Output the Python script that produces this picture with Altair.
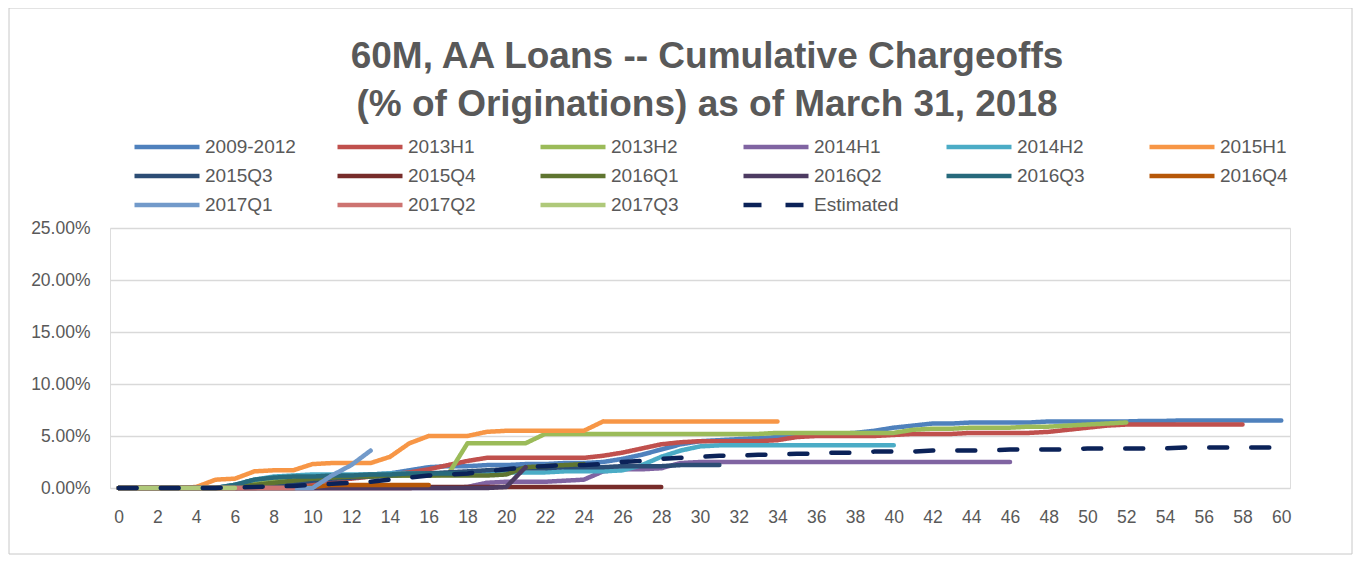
import altair as alt
import pandas as pd

# ---- data (percent of originations, by month on book starting at 0) ----
title_lines = ["60M, AA Loans -- Cumulative Chargeoffs", "(% of Originations) as of March 31, 2018"]

series_names = ["2009-2012", "2013H1", "2013H2", "2014H1", "2014H2", "2015H1",
                "2015Q3", "2015Q4", "2016Q1", "2016Q2", "2016Q3", "2016Q4",
                "2017Q1", "2017Q2", "2017Q3", "Estimated"]

series_colors = ["#4F81BD", "#C0504D", "#9BBB59", "#8064A2", "#4BACC6", "#F79646",
                 "#2C4D75", "#772C2A", "#5F7530", "#4D3B62", "#276A7C", "#B65708",
                 "#729ACA", "#CD7371", "#AFC97A", "#0B2258"]

v_2009_2012 = [0, 0, 0, 0, 0, 0,
               0.3, 0.6, 0.8, 0.9, 1.0,
               1.1, 1.2, 1.3, 1.4, 1.7,
               2.0, 2.1, 2.1, 2.2, 2.2,
               2.3, 2.3, 2.4, 2.4, 2.5,
               2.8, 3.2, 3.7, 4.2, 4.5,
               4.6, 4.7, 4.8, 4.9, 5.0,
               5.1, 5.2, 5.3, 5.5, 5.8,
               6.0, 6.2, 6.2, 6.3, 6.3,
               6.3, 6.3, 6.4, 6.4, 6.4,
               6.4, 6.4, 6.45, 6.45, 6.5,
               6.5, 6.5, 6.5, 6.5, 6.5]
v_2013H1 = [0, 0, 0, 0, 0, 0,
            0, 0, 0.1, 0.3, 0.5,
            0.7, 0.9, 1.1, 1.3, 1.5,
            1.8, 2.2, 2.6, 2.9, 2.9,
            2.9, 2.9, 2.9, 2.9, 3.1,
            3.4, 3.8, 4.2, 4.4, 4.5,
            4.5, 4.5, 4.5, 4.6, 4.9,
            5.0, 5.0, 5.0, 5.0, 5.1,
            5.2, 5.2, 5.2, 5.3, 5.3,
            5.3, 5.3, 5.4, 5.6, 5.8,
            6.0, 6.1, 6.1, 6.1, 6.1,
            6.1, 6.1, 6.1]
v_2013H2 = [0, 0, 0, 0, 0, 0,
            0.2, 0.5, 0.7, 0.9, 1.0,
            1.1, 1.1, 1.1, 1.2, 1.2,
            1.2, 1.3, 4.3, 4.3, 4.3,
            4.3, 5.2, 5.2, 5.2, 5.2,
            5.2, 5.2, 5.2, 5.2, 5.2,
            5.2, 5.2, 5.2, 5.3, 5.3,
            5.3, 5.3, 5.3, 5.3, 5.3,
            5.6, 5.7, 5.7, 5.8, 5.8,
            5.8, 5.9, 5.9, 6.0, 6.1,
            6.2, 6.3]
v_2014H1 = [0, 0, 0, 0, 0, 0,
            0, 0, 0, 0, 0,
            0, 0, 0, 0, 0,
            0, 0, 0.1, 0.5, 0.6,
            0.6, 0.6, 0.7, 0.8, 1.6,
            1.8, 1.8, 1.9, 2.4, 2.5,
            2.5, 2.5, 2.5, 2.5, 2.5,
            2.5, 2.5, 2.5, 2.5, 2.5,
            2.5, 2.5, 2.5, 2.5, 2.5,
            2.5]
v_2014H2 = [0, 0, 0, 0, 0, 0,
            0.3, 0.8, 1.1, 1.2, 1.3,
            1.3, 1.3, 1.3, 1.4, 1.4,
            1.4, 1.4, 1.4, 1.5, 1.5,
            1.5, 1.5, 1.6, 1.6, 1.6,
            1.7, 2.2, 3.0, 3.6, 4.0,
            4.1, 4.1, 4.1, 4.1, 4.1,
            4.1, 4.1, 4.1, 4.1, 4.1]
v_2015H1 = [0, 0, 0, 0, 0.1, 0.8,
            0.9, 1.6, 1.7, 1.7, 2.3,
            2.4, 2.4, 2.4, 3.0, 4.3,
            5.0, 5.0, 5.0, 5.4, 5.5,
            5.5, 5.5, 5.5, 5.5, 6.4,
            6.4, 6.4, 6.4, 6.4, 6.4,
            6.4, 6.4, 6.4, 6.4]
v_2015Q3 = [0, 0, 0, 0, 0, 0,
            0, 0.1, 0.3, 0.5, 0.7,
            0.9, 1.0, 1.1, 1.2, 1.3,
            1.4, 1.5, 1.6, 1.7, 1.8,
            1.9, 1.9, 2.0, 2.0, 2.0,
            2.1, 2.1, 2.1, 2.2, 2.2,
            2.2]
v_2015Q4 = [0, 0, 0, 0, 0, 0, 0, 0, 0, 0, 0, 0, 0, 0, 0, 0,
            0.1, 0.1, 0.1, 0.1, 0.1, 0.1, 0.1, 0.1, 0.1, 0.1, 0.1, 0.1, 0.1]
v_2016Q1 = [0, 0, 0, 0, 0, 0,
            0.1, 0.3, 0.5, 0.7, 0.9,
            1.0, 1.1, 1.1, 1.2, 1.2,
            1.2, 1.2, 1.2, 1.2, 1.3,
            2.0, 2.1, 2.2, 2.3]
v_2016Q2 = [0, 0, 0, 0, 0, 0, 0, 0, 0, 0, 0,
            0, 0, 0, 0, 0, 0, 0, 0, 0, 0.1, 2.0]
v_2016Q3 = [0, 0, 0, 0, 0, 0,
            0.3, 0.8, 1.0, 1.1, 1.1,
            1.2, 1.2, 1.3, 1.3, 1.4,
            1.4, 1.4, 1.4]
v_2016Q4 = [0, 0, 0, 0, 0, 0, 0, 0, 0, 0,
            0.1, 0.3, 0.3, 0.3, 0.3, 0.3, 0.3]
v_2017Q1 = [0, 0, 0, 0, 0, 0, 0, 0, 0, 0, 0, 1.2, 2.2, 3.6]
v_2017Q2 = [0, 0, 0, 0, 0, 0, 0, 0, 0, 0]
v_2017Q3 = [0, 0, 0, 0, 0, 0, 0]
v_estimated = [0, 0, 0, 0, 0, 0,
               0.05, 0.1, 0.15, 0.2, 0.3,
               0.4, 0.5, 0.6, 0.8, 1.0,
               1.2, 1.3, 1.4, 1.6, 1.8,
               2.0, 2.1, 2.2, 2.2, 2.3,
               2.5, 2.6, 2.8, 2.9, 3.0,
               3.1, 3.1, 3.2, 3.2, 3.3,
               3.3, 3.4, 3.4, 3.5, 3.5,
               3.5, 3.6, 3.6, 3.6, 3.6,
               3.7, 3.7, 3.7, 3.7, 3.8,
               3.8, 3.8, 3.8, 3.8, 3.9,
               3.9, 3.9, 3.9, 3.9, 3.9]

series_values = [v_2009_2012, v_2013H1, v_2013H2, v_2014H1, v_2014H2, v_2015H1,
                 v_2015Q3, v_2015Q4, v_2016Q1, v_2016Q2, v_2016Q3, v_2016Q4,
                 v_2017Q1, v_2017Q2, v_2017Q3, v_estimated]

x_ticks = list(range(0, 61, 2))
y_ticks = [0, 0.05, 0.10, 0.15, 0.20, 0.25]

rows = []
for name, vals in zip(series_names, series_values):
    for m, v in enumerate(vals):
        rows.append({"series": name, "month": m, "value": v / 100.0})
df = pd.DataFrame(rows)

dash_range = [[1, 0]] * (len(series_names) - 1) + [[18, 24]]

GRAY = "#595959"
FONT = "Liberation Sans"
W, H = 1180, 260

lines = alt.Chart(df).mark_line(strokeWidth=4.5, strokeCap="round", strokeJoin="round").encode(
    x=alt.X("month:Q",
            scale=alt.Scale(domain=[-0.45, 60.45], nice=False, zero=False),
            axis=alt.Axis(values=x_ticks, title=None, grid=False, ticks=False, domain=False,
                          labelFontSize=17.5, labelColor=GRAY, labelFont=FONT,
                          labelPadding=20, labelFlush=False)),
    y=alt.Y("value:Q",
            scale=alt.Scale(domain=[0, 0.25], nice=False),
            axis=alt.Axis(values=y_ticks, format=".2%", title=None, ticks=False, domain=False,
                          gridColor="#D9D9D9", gridWidth=1.5,
                          labelFontSize=17.5, labelColor=GRAY, labelFont=FONT,
                          labelPadding=20)),
    color=alt.Color("series:N",
                    scale=alt.Scale(domain=series_names, range=series_colors),
                    sort=series_names,
                    legend=alt.Legend(title=None, orient="none", direction="horizontal",
                                      legendX=22, legendY=-91,
                                      columns=6, gridAlign="all", columnPadding=39,
                                      rowPadding=9, clipHeight=20, padding=0,
                                      symbolType="stroke", symbolSize=4225,
                                      symbolStrokeWidth=4.5, labelOffset=3,
                                      labelFontSize=19, labelColor=GRAY, labelFont=FONT,
                                      labelLimit=200)),
    strokeDash=alt.StrokeDash("series:N",
                              scale=alt.Scale(domain=series_names, range=dash_range),
                              sort=series_names,
                              legend=None),
    detail="series:N",
)

one = pd.DataFrame({"k": [0]})

border = alt.Chart(one).mark_rect(fill=None, stroke="#C8C8C8", strokeWidth=1).encode(
    x=alt.value(-101), x2=alt.value(W + 62),
    y=alt.value(-220), y2=alt.value(H + 66),
)

title_style = dict(font=FONT, fontSize=37, fontWeight="bold", color=GRAY,
                   align="center", baseline="middle")
title1 = alt.Chart(one).mark_text(**title_style).encode(
    x=alt.value(597), y=alt.value(-171), text=alt.value(title_lines[0]))
title2 = alt.Chart(one).mark_text(**title_style).encode(
    x=alt.value(597), y=alt.value(-123), text=alt.value(title_lines[1]))

chart = alt.layer(border, lines, title1, title2).properties(
    width=W,
    height=H,
    autosize=alt.AutoSizeParams(type="none"),
    padding={"left": 102, "top": 220, "right": 66, "bottom": 67},
).configure_view(stroke=None).configure(background="white")

chart.save("out.html", embed_options={"renderer": "svg", "actions": False})
